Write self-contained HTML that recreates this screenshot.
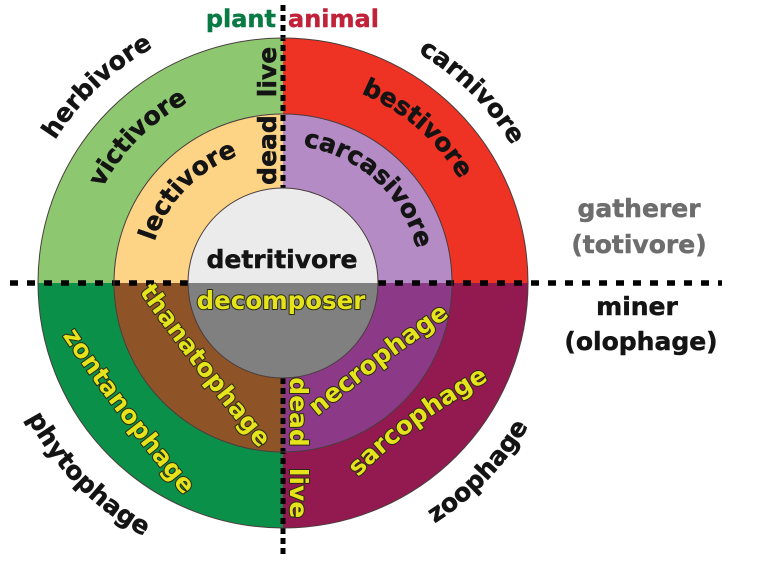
<!DOCTYPE html>
<html><head><meta charset="utf-8"><style>
html,body{margin:0;padding:0;background:#fff;}
svg{display:block;}
text{font-family:"DejaVu Sans","Liberation Sans",sans-serif;font-weight:bold;font-size:25px;}
.y{fill:#e4e31c;stroke:#2a2a10;stroke-width:2px;paint-order:stroke;stroke-linejoin:round;}
.k{fill:#141414;stroke:#141414;stroke-width:0.5px;}
</style></head><body>
<svg xmlns="http://www.w3.org/2000/svg" xmlns:xlink="http://www.w3.org/1999/xlink" width="773" height="565" viewBox="0 0 773 565">
<defs>
<path id="t269" d="M50.04 148.5 A269 269 0 0 1 515.96 148.5"/>
<path id="t267" d="M51.8 149.5 A267 267 0 0 1 514.2 149.5"/>
<path id="t204" d="M106.3 181 A204 204 0 0 1 459.7 181"/>
<path id="t205" d="M105.5 180.5 A205 205 0 0 1 460.5 180.5"/>
<path id="t135" d="M166.1 215.5 A135 135 0 0 1 399.9 215.5"/>
<path id="t138" d="M163.5 214 A138 138 0 0 1 402.5 214"/>
<path id="b289" d="M32.7 427.5 A289 289 0 0 0 533.3 427.5"/>
<path id="b284" d="M37 425 A284 284 0 0 0 529 425"/>
<path id="pThan" d="M136.8 288.3 Q192.8 368.5 262 451.9"/>
<path id="pNecr" d="M311.1 421.5 Q379.15 364.75 456.6 311.4"/>
<path id="pSarc" d="M349.5 486.4 Q406.3 424.35 499.9 374.1"/>
<path id="pZont" d="M55.2 324.9 Q118.6 419.95 192 505.2"/>
</defs>

<!-- outer ring -->
<path d="M283 283 L38 283 A245 245 0 0 1 283 38 Z" fill="#8dc870"/>
<path d="M283 283 L283 38 A245 245 0 0 1 528 283 Z" fill="#ee3224"/>
<path d="M283 283 L528 283 A245 245 0 0 1 283 528 Z" fill="#921a50"/>
<path d="M283 283 L283 528 A245 245 0 0 1 38 283 Z" fill="#0b9049"/>
<!-- middle ring -->
<path d="M283 283 L114 283 A169 169 0 0 1 283 114 Z" fill="#fdd385"/>
<path d="M283 283 L283 114 A169 169 0 0 1 452 283 Z" fill="#b48bc4"/>
<path d="M283 283 L452 283 A169 169 0 0 1 283 452 Z" fill="#8c3a88"/>
<path d="M283 283 L283 452 A169 169 0 0 1 114 283 Z" fill="#8e5428"/>

<!-- dashed dividers (broken at inner circle) -->
<line x1="10" y1="283" x2="188" y2="283" stroke="#000" stroke-width="5.5" stroke-dasharray="8 9"/>
<line x1="378" y1="283" x2="722" y2="283" stroke="#000" stroke-width="5.5" stroke-dasharray="8 9"/>
<line x1="283" y1="5" x2="283" y2="188" stroke="#000" stroke-width="5" stroke-dasharray="6 4"/>
<line x1="283" y1="378" x2="283" y2="556" stroke="#000" stroke-width="5" stroke-dasharray="6 4"/>

<!-- inner -->
<path d="M188 283 A95 95 0 0 1 378 283 Z" fill="#ebebeb"/>
<path d="M378 283 A95 95 0 0 1 188 283 Z" fill="#808080"/>
<circle cx="283" cy="283" r="245" fill="none" stroke="#4a3d3d" stroke-width="1"/>
<circle cx="283" cy="283" r="169" fill="none" stroke="#4a3d3d" stroke-width="1"/>
<circle cx="283" cy="283" r="95" fill="none" stroke="#4a3d3d" stroke-width="1"/>

<!-- top labels -->
<text x="276" y="27" text-anchor="end" style="fill:#0a7a45;stroke:#0a7a45;stroke-width:0.4px;font-size:24px">plant</text>
<text x="288" y="27" style="fill:#c0223a;stroke:#c0223a;stroke-width:0.4px;font-size:24px">animal</text>

<text class="k" transform="rotate(-43.4 283 283)"><textPath href="#t269" xlink:href="#t269" startOffset="50%" text-anchor="middle">herbivore</textPath></text>
<text class="k" transform="rotate(44.7 283 283)"><textPath href="#t267" xlink:href="#t267" startOffset="50%" text-anchor="middle">carnivore</textPath></text>
<text class="k" transform="rotate(-45 283 283)"><textPath href="#t204" xlink:href="#t204" startOffset="50%" text-anchor="middle">victivore</textPath></text>
<text class="k" transform="rotate(41 283 283)"><textPath href="#t205" xlink:href="#t205" startOffset="50%" text-anchor="middle">bestivore</textPath></text>
<text class="k" transform="rotate(-45.9 283 283)"><textPath href="#t135" xlink:href="#t135" startOffset="50%" text-anchor="middle">lectivore</textPath></text>
<text class="k" transform="rotate(42 283 283)"><textPath href="#t138" xlink:href="#t138" startOffset="50%" text-anchor="middle">carcasivore</textPath></text>

<text class="k" transform="translate(276 72) rotate(-90)" text-anchor="middle">live</text>
<text class="k" transform="translate(276 150) rotate(-90)" text-anchor="middle">dead</text>

<text class="k" x="282" y="268" text-anchor="middle">detritivore</text>
<text class="y" x="281" y="309" text-anchor="middle" style="font-size:24.5px">decomposer</text>

<!-- bottom labels -->
<text class="k" transform="rotate(45.5 283 283)"><textPath href="#b289" xlink:href="#b289" startOffset="50%" text-anchor="middle">phytophage</textPath></text>
<text class="k" transform="rotate(-46 283 283)"><textPath href="#b284" xlink:href="#b284" startOffset="50%" text-anchor="middle">zoophage</textPath></text>

<text class="y"><textPath href="#pZont" xlink:href="#pZont" startOffset="50%" text-anchor="middle">zontanophage</textPath></text>
<text class="y"><textPath href="#pThan" xlink:href="#pThan" startOffset="50%" text-anchor="middle">thanatophage</textPath></text>
<text class="y"><textPath href="#pNecr" xlink:href="#pNecr" startOffset="50%" text-anchor="middle">necrophage</textPath></text>
<text class="y"><textPath href="#pSarc" xlink:href="#pSarc" startOffset="50%" text-anchor="middle">sarcophage</textPath></text>

<text class="y" transform="translate(290 412) rotate(90)" text-anchor="middle">dead</text>
<text class="y" transform="translate(290 493) rotate(90)" text-anchor="middle">live</text>

<!-- right side labels -->
<text x="639" y="217" text-anchor="middle" style="fill:#6d6d6d;stroke:#6d6d6d;stroke-width:0.5px">gatherer</text>
<text x="639" y="253" text-anchor="middle" style="fill:#6d6d6d;stroke:#6d6d6d;stroke-width:0.5px">(totivore)</text>
<text class="k" x="637" y="315" text-anchor="middle">miner</text>
<text class="k" x="641" y="350" text-anchor="middle">(olophage)</text>
</svg>
</body></html>
